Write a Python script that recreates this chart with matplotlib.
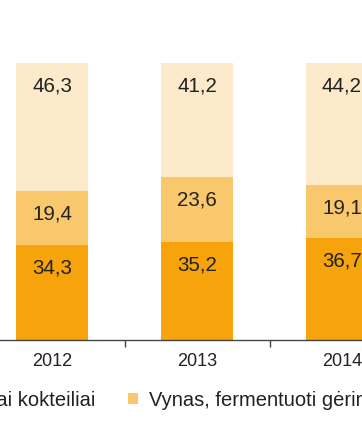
import matplotlib
matplotlib.use("Agg")
import matplotlib.pyplot as plt
from matplotlib.patches import Patch
import numpy as np

plt.rcParams['font.family'] = ['Liberation Sans', 'DejaVu Sans']

years = ["2012", "2013", "2014"]
spirits = [34.3, 35.2, 36.7]
wine = [19.4, 23.6, 19.1]
beer = [46.3, 41.2, 44.2]
series_names = ["Spiritiniai gėrimai ir alkoholiniai kokteiliai",
                "Vynas, fermentuoti gėrimai",
                "Alus ir alaus kokteiliai"]
colors = ["#F6A30C", "#F9C76C", "#FDEACB"]

W, H = 362, 428
fig = plt.figure(figsize=(W / 100, H / 100), dpi=100)
ax = fig.add_axes([0, (H - 340) / H, 1, 277 / H])

x = np.arange(len(years))
bottom = np.zeros(len(years))
series = [spirits, wine, beer]
off = 8.3
for vals, c in zip(series, colors):
    vals = np.array(vals)
    ax.bar(x, vals, width=0.5, bottom=bottom, color=c, edgecolor='none')
    for xi, b, v in zip(x, bottom, vals):
        ax.text(xi, b + v - off, f"{v:.1f}".replace('.', ','),
                ha='center', va='center', fontsize=14.8, color='#222222')
    bottom += vals

for s in ['left', 'right', 'top']:
    ax.spines[s].set_visible(False)
ax.spines['bottom'].set_color('#444444')
ax.spines['bottom'].set_linewidth(1.0)
ax.set_yticks([])
ax.set_xticks(x)
ax.set_xticklabels(years, fontsize=13, color='#222222')
ax.tick_params(axis='x', which='major', length=0, pad=9.5)
ax.set_xticks([-0.5, 0.5, 1.5, 2.5], minor=True)
ax.tick_params(axis='x', which='minor', length=5, width=1, color='#444444', direction='out')
ax.set_xlim(-52 / 145, (362 - 52) / 145)
ax.set_ylim(0, 100)

handles = [Patch(facecolor=c, edgecolor='none') for c in colors]
leg = fig.legend(handles, series_names, ncol=3, frameon=False, fontsize=14.5,
                 handlelength=0.5, handleheight=0.5, handletextpad=0.55,
                 columnspacing=1.6, loc='center left',
                 bbox_to_anchor=(0, 1 - 400 / H), labelcolor='#222222')

fig.canvas.draw()
r = fig.canvas.get_renderer()
hb = leg.legend_handles[1].get_window_extent(r)
dx = 128 - hb.x0
leg.set_bbox_to_anchor((dx / W, 1 - 400 / H), transform=fig.transFigure)

fig.savefig("out.png", dpi=100)
